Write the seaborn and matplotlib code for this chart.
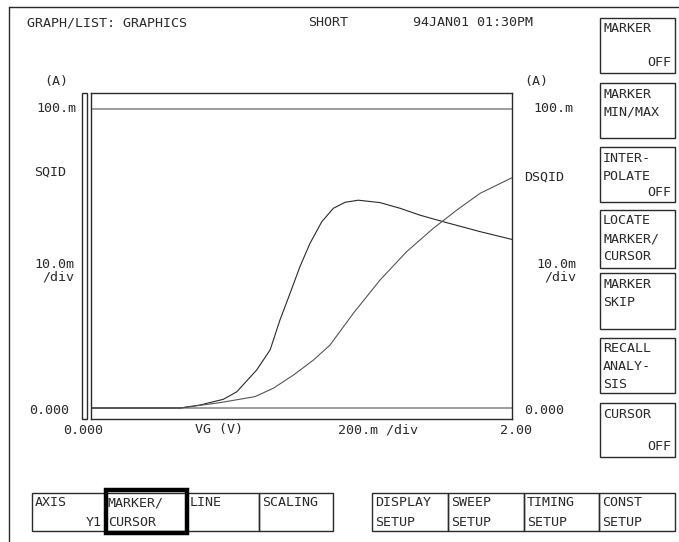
import matplotlib
matplotlib.use("Agg")
import matplotlib.pyplot as plt
from matplotlib.patches import Rectangle
import pandas as pd
import seaborn as sns

vg_sqid = [0.0, 0.42, 0.514, 0.625, 0.689, 0.784, 0.848, 0.895, 0.943, 0.990, 1.038,
           1.094, 1.149, 1.205, 1.268, 1.371, 1.467, 1.562, 1.673, 1.848, 2.0]
sqid = [0.0, 0.0, 0.0010, 0.0029, 0.0054, 0.0127, 0.0194, 0.0294, 0.0383, 0.0472, 0.0550,
        0.0622, 0.0667, 0.0687, 0.0694, 0.0686, 0.0667, 0.0644, 0.0622, 0.0589, 0.0563]
vg_dsqid = [0.0, 0.42, 0.61, 0.776, 0.863, 0.959, 1.054, 1.133, 1.244, 1.371, 1.498,
            1.625, 1.737, 1.848, 2.0]
dsqid = [0.0, 0.0, 0.0018, 0.0038, 0.0066, 0.0110, 0.0160, 0.0210, 0.0316, 0.0427, 0.0522,
         0.0600, 0.0661, 0.0717, 0.0769]

ref_levels = [0.0, 0.100]

top_texts = ["GRAPH/LIST: GRAPHICS", "SHORT", "94JAN01 01:30PM"]
side_keys = [["MARKER", "", "OFF"], ["MARKER", "MIN/MAX", ""], ["INTER-", "POLATE", "OFF"],
             ["LOCATE", "MARKER/", "CURSOR"], ["MARKER", "SKIP", ""],
             ["RECALL", "ANALY-", "SIS"], ["CURSOR", "", "OFF"]]
bottom_keys = [("AXIS", "Y1"), ("MARKER/", "CURSOR"), ("LINE", ""), ("SCALING", ""),
               ("DISPLAY", "SETUP"), ("SWEEP", "SETUP"), ("TIMING", "SETUP"), ("CONST", "SETUP")]

df = pd.concat([
    pd.DataFrame({"VG": vg_sqid, "I": sqid, "name": "SQID"}),
    pd.DataFrame({"VG": vg_dsqid, "I": dsqid, "name": "DSQID"}),
])

sns.set_style("white")
plt.rcParams["font.family"] = ["DejaVu Sans Mono"]
FS = 9.6
INK = "#2a2a2a"
GRID = "#8c8c8c"

fig = plt.figure(figsize=(6.79, 5.42), dpi=100)

# screen overlay in pixel coordinates
bg = fig.add_axes([0, 0, 1, 1])
bg.set_xlim(0, 679)
bg.set_ylim(542, 0)
bg.axis("off")


def txt(x, y, s, ha="left"):
    bg.text(x, y, s, ha=ha, va="center", fontsize=FS, color=INK)


bg.plot([9, 679], [7, 7], color=INK, lw=1)
bg.plot([9, 9], [7, 542], color=INK, lw=1)

txt(27, 23, top_texts[0])
txt(308, 23, top_texts[1])
txt(413, 23, top_texts[2])

# left axis labels
txt(56, 82, "(A)", ha="center")
txt(76, 108, "100.m", ha="right")
txt(34, 172, "SQID")
txt(74, 264, "10.0m", ha="right")
txt(74, 277, "/div", ha="right")
txt(69, 410, "0.000", ha="right")
# right axis labels
txt(536, 82, "(A)", ha="center")
txt(533, 108, "100.m")
txt(524, 177, "DSQID")
txt(576, 264, "10.0m", ha="right")
txt(576, 277, "/div", ha="right")
txt(524, 410, "0.000")
# x axis labels
txt(83, 430, "0.000", ha="center")
txt(219, 430, "VG (V)", ha="center")
txt(378, 430, "200.m /div", ha="center")
txt(516, 430, "2.00", ha="center")

# narrow bar left of the plot
bg.add_patch(Rectangle((82, 93), 5, 326, fill=False, ec=INK, lw=1))

# side softkeys
side_boxes = [(18, 73), (83, 138), (147, 202), (210, 268), (273, 329), (338, 393), (403, 457)]
for (y0, y1), lines in zip(side_boxes, side_keys):
    bg.add_patch(Rectangle((600, y0), 75, y1 - y0, fill=False, ec=INK, lw=1))
    for i, s in enumerate(lines):
        if not s:
            continue
        if s == "OFF":
            txt(671, y1 - 10, s, ha="right")
        else:
            txt(603, y0 + 11 + 18 * i, s)

# bottom softkeys
cells = [(32, 105), (105, 187), (187, 259), (259, 333),
         (372, 448), (448, 524), (524, 599), (599, 675)]
for (x0, x1), (l1, l2) in zip(cells, bottom_keys):
    bg.add_patch(Rectangle((x0, 493), x1 - x0, 38, fill=False, ec=INK, lw=1))
    txt(x0 + 3, 503, l1)
    if l2 == "Y1":
        txt(x1 - 3, 522, l2, ha="right")
    elif l2:
        txt(x0 + 3, 522, l2)
bg.add_patch(Rectangle((106, 490), 81, 43, fill=False, ec="black", lw=3.2))

# main graph area
ax = fig.add_axes([91 / 679, 1 - 419 / 542, (512 - 91) / 679, (419 - 93) / 542])
for lv in ref_levels:
    ax.axhline(lv, color=GRID, lw=1.2, zorder=1)
sns.lineplot(data=df, x="VG", y="I", hue="name", palette=[INK, "#555555"],
             linewidth=0.8, legend=False, ax=ax, sort=False, zorder=3)
ax.set_xlim(-0.005, 2.0)
ax.set_ylim(-0.00367, 0.1052)
ax.set_xticks([])
ax.set_yticks([])
ax.set_xlabel("")
ax.set_ylabel("")
for sp in ax.spines.values():
    sp.set_color(INK)
    sp.set_linewidth(1)

fig.savefig("out.png", dpi=100)
